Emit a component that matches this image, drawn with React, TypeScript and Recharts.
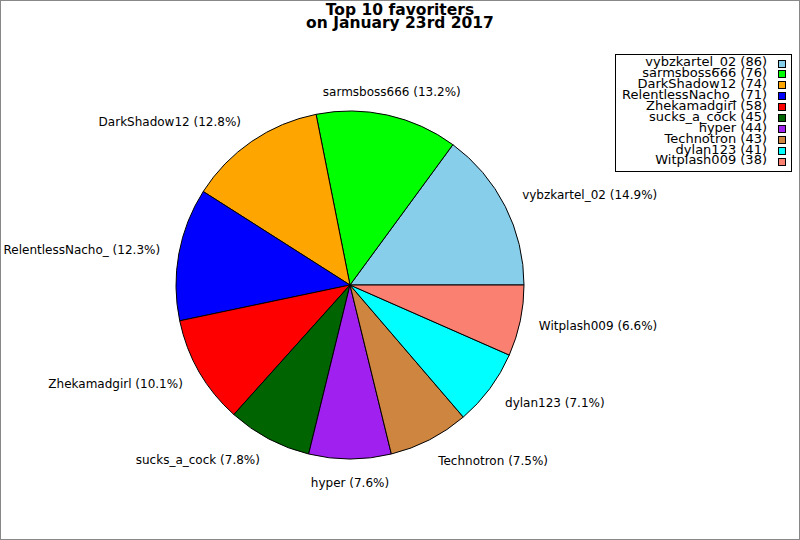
import React from 'react';
import { PieChart, Pie, Cell, Legend } from 'recharts';

const names = [
  'vybzkartel_02',
  'sarmsboss666',
  'DarkShadow12',
  'RelentlessNacho_',
  'Zhekamadgirl',
  'sucks_a_cock',
  'hyper',
  'Technotron',
  'dylan123',
  'Witplash009',
];
const counts = [86, 76, 74, 71, 58, 45, 44, 43, 41, 38];
const colors = [
  '#87ceeb',
  '#00ff00',
  '#ffa500',
  '#0000ff',
  '#ff0000',
  '#006400',
  '#a020f0',
  '#cd853f',
  '#00ffff',
  '#fa8072',
];
const titleLines = ['Top 10 favoriters', 'on January 23rd 2017'];

const FONT = '"DejaVu Sans", sans-serif';
const RADIAN = Math.PI / 180;

const data = names.map((name, i) => ({ name, value: counts[i] }));

// label sits just outside the rim, anchored by which side of the pie it is on
function renderLabel(props: any) {
  const { cx, cy, midAngle, outerRadius, percent, name } = props;
  const r = outerRadius + 24;
  const cos = Math.cos(-midAngle * RADIAN);
  const x = cx + (r - 5) * cos;
  const y = cy + r * Math.sin(-midAngle * RADIAN);
  const anchor = cos > 0.3 ? 'start' : cos < -0.3 ? 'end' : 'middle';
  return (
    <text
      x={x}
      y={y}
      textAnchor={anchor}
      dominantBaseline="central"
      fontFamily={FONT}
      fontSize={12}
      fill="#000"
    >
      {`${name} (${(percent * 100).toFixed(1)}%)`}
    </text>
  );
}

function LegendBox() {
  return (
    <div
      style={{
        boxSizing: 'border-box',
        width: 177,
        height: 118,
        border: '1px solid #000',
        background: '#fff',
        paddingTop: 2.4,
        paddingRight: 5,
        fontFamily: FONT,
        fontSize: 13,
        color: '#000',
      }}
    >
      {names.map((n, i) => (
        <div
          key={n}
          style={{
            display: 'flex',
            justifyContent: 'flex-end',
            height: 10.9,
            lineHeight: '10.9px',
            whiteSpace: 'nowrap',
          }}
        >
          <span>{`${n} (${counts[i]})`}</span>
          <span
            style={{
              boxSizing: 'border-box',
              display: 'inline-block',
              flexShrink: 0,
              width: 8,
              height: 8,
              marginTop: 2.2,
              marginLeft: 11,
              background: colors[i],
              border: '1px solid #000',
            }}
          />
        </div>
      ))}
    </div>
  );
}

export default function App() {
  return (
    <div
      style={{
        position: 'absolute',
        left: 0,
        top: 0,
        width: 800,
        height: 540,
        background: '#fff',
      }}
    >
      <PieChart width={800} height={540} margin={{ top: 0, right: 0, bottom: 0, left: 0 }}>
        <Pie
          data={data}
          dataKey="value"
          nameKey="name"
          cx={350}
          cy={285}
          outerRadius={174}
          startAngle={0}
          endAngle={360}
          stroke="#000"
          strokeWidth={1}
          label={renderLabel}
          labelLine={false}
          isAnimationActive={false}
        >
          {data.map((d, i) => (
            <Cell key={d.name} fill={colors[i]} />
          ))}
        </Pie>
        <Legend
          layout="vertical"
          align="right"
          verticalAlign="top"
          content={() => <LegendBox />}
          wrapperStyle={{ left: 615, top: 54, right: 'auto', width: 177, height: 118 }}
        />
      </PieChart>
      <div
        style={{
          position: 'absolute',
          left: 0,
          top: 4,
          width: 800,
          textAlign: 'center',
          fontFamily: FONT,
          fontWeight: 'bold',
          fontSize: 15.5,
          lineHeight: '13px',
          color: '#000',
        }}
      >
        {titleLines.map((t) => (
          <div key={t}>{t}</div>
        ))}
      </div>
      <div
        style={{
          position: 'absolute',
          left: 0,
          top: 0,
          width: 800,
          height: 540,
          boxSizing: 'border-box',
          border: '1px solid #888',
          pointerEvents: 'none',
        }}
      />
    </div>
  );
}
